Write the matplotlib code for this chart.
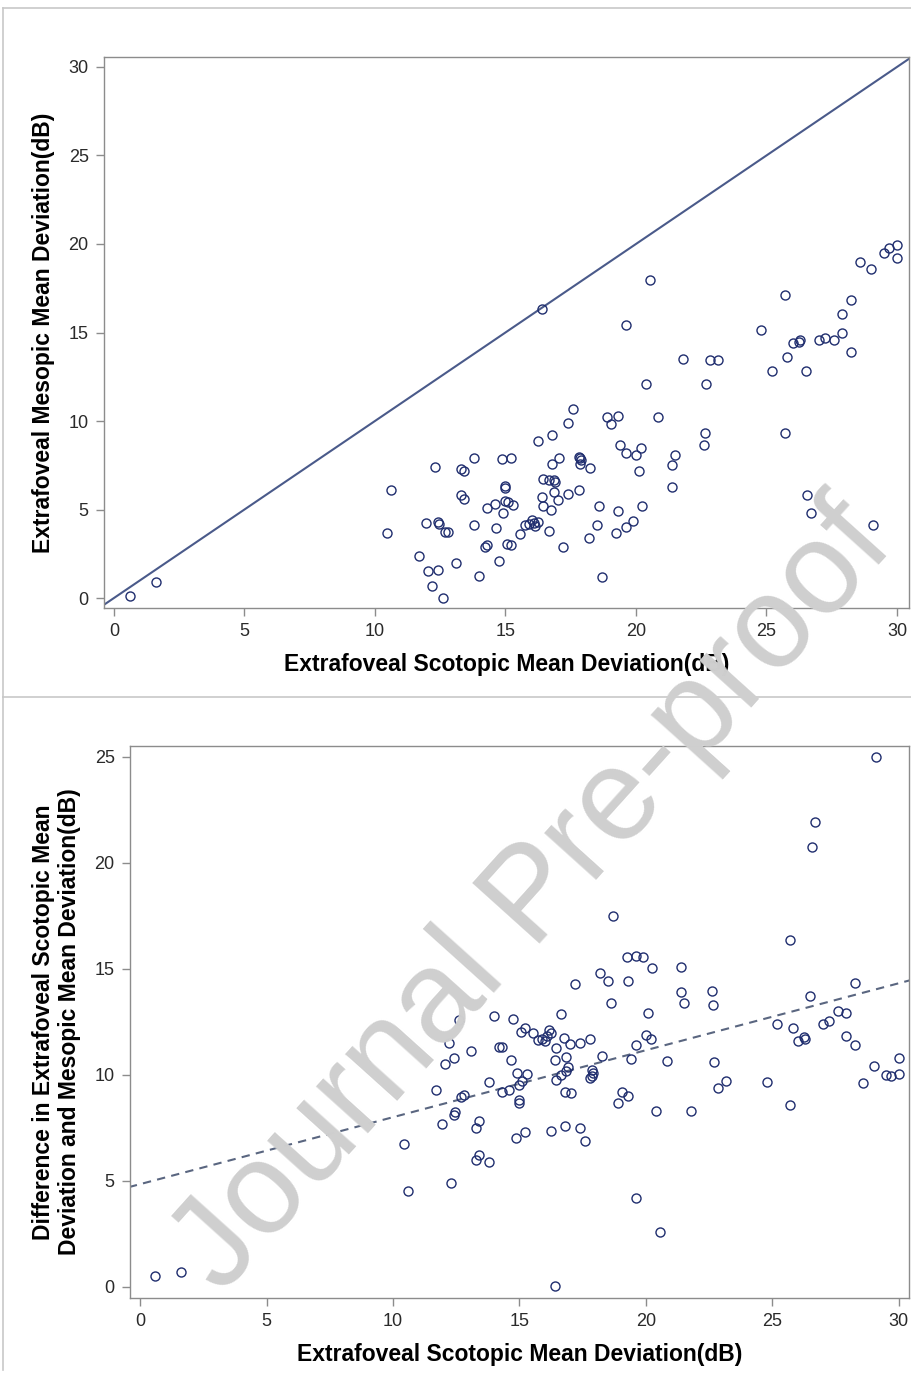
import numpy as np
import matplotlib
matplotlib.use("Agg")
import matplotlib.pyplot as plt
from matplotlib.lines import Line2D

plt.rcParams["font.family"] = ["Liberation Sans", "DejaVu Sans"]

# extrafoveal scotopic MD (x) and mesopic MD (y)
scotopic = [
    0.6, 1.6, 10.6, 10.45, 12.3, 13.3, 13.4, 13.8, 13.3, 13.4,
    14.3, 14.6, 11.95, 12.4, 12.45, 12.7, 12.8, 13.8, 14.65, 14.2,
    14.3, 14.75, 11.7, 12.05, 12.4, 13.1, 14.0, 12.2, 12.6, 14.85,
    15.2, 15.0, 15.0, 15.0, 15.1, 15.3, 14.9, 15.05, 15.2, 15.55,
    15.75, 15.9, 16.0, 16.1, 16.15, 16.25, 16.65, 16.25, 16.8, 17.05,
    16.45, 16.65, 16.85, 16.9, 16.4, 16.85, 17.0, 17.4, 17.8, 16.45,
    16.75, 16.8, 17.4, 17.6, 17.8, 17.85, 17.9, 17.85, 18.25, 18.6,
    19.3, 20.25, 18.5, 19.25, 19.6, 19.9, 18.2, 17.2, 18.7, 18.9,
    19.05, 19.3, 20.85, 19.4, 19.6, 20.0, 20.2, 20.1, 21.5, 21.4,
    21.4, 22.65, 22.6, 25.7, 20.4, 22.7, 21.8, 22.85, 23.15, 19.6,
    16.4, 20.55, 24.8, 25.7, 25.2, 25.8, 26.0, 26.25, 26.3, 26.5,
    27.0, 27.25, 27.6, 27.9, 27.9, 28.25, 28.25, 28.6, 29.0, 29.5,
    29.7, 30.0, 30.0, 26.55, 26.7, 29.1,
]
mesopic = [
    0.1, 0.9, 6.1, 3.7, 7.4, 7.3, 7.2, 7.9, 5.8, 5.6,
    5.1, 5.3, 4.25, 4.3, 4.2, 3.75, 3.75, 4.15, 3.95, 2.9,
    3.0, 2.1, 2.4, 1.55, 1.6, 2.0, 1.25, 0.7, 0.0, 7.85,
    7.9, 6.35, 6.2, 5.5, 5.4, 5.25, 4.8, 3.05, 3.0, 3.6,
    4.1, 4.2, 4.4, 4.25, 4.05, 4.3, 3.8, 8.9, 7.6, 7.9,
    6.7, 6.65, 6.65, 6.55, 5.7, 6.0, 5.55, 5.9, 6.1, 5.2,
    5.0, 9.2, 9.9, 10.7, 7.95, 7.9, 7.8, 7.6, 7.35, 5.2,
    4.9, 5.2, 4.1, 3.7, 4.0, 4.35, 3.4, 2.9, 1.2, 10.25,
    9.85, 10.3, 10.2, 8.65, 8.2, 8.1, 8.5, 7.2, 8.1, 7.5,
    6.3, 9.35, 8.65, 9.35, 12.1, 12.1, 13.5, 13.45, 13.45, 15.4,
    16.35, 17.95, 15.15, 17.1, 12.8, 13.6, 14.4, 14.45, 14.6, 12.8,
    14.6, 14.7, 14.6, 15.0, 16.05, 16.85, 13.9, 19.0, 18.6, 19.5,
    19.75, 19.95, 19.2, 5.8, 4.8, 4.1,
]

x_ticks = [0, 5, 10, 15, 20, 25, 30]
top_y_ticks = [0, 5, 10, 15, 20, 25, 30]
bottom_y_ticks = [0, 5, 10, 15, 20, 25]

x_label = "Extrafoveal Scotopic Mean Deviation(dB)"
top_y_label = "Extrafoveal Mesopic Mean Deviation(dB)"
bottom_y_label = "Difference in Extrafoveal Scotopic Mean\nDeviation and Mesopic Mean Deviation(dB)"

S = np.array(scotopic)
M = np.array(mesopic)
difference = S - M

MARKER_COLOR = "#1f2d6e"
LINE_COLOR = "#4a5a8a"
SPINE_COLOR = "#8c8c8c"
LABEL_SIZE = 16.5


def style_axes(ax, yticks):
    ax.set_xticks(x_ticks)
    ax.set_yticks(yticks)
    for sp in ax.spines.values():
        sp.set_color(SPINE_COLOR)
        sp.set_linewidth(1.0)
    ax.tick_params(direction="out", length=6, width=1, color=SPINE_COLOR,
                   labelsize=13, labelcolor="#2a2a2a", pad=5)


fig = plt.figure(figsize=(9.12, 13.78), dpi=100)

# top panel: mesopic vs scotopic with identity line
ax1 = fig.add_axes([0.114, 0.5588, 0.8827, 0.3998])
ax1.set_xlim(-0.38, 30.46)
ax1.set_ylim(-0.56, 30.56)
ax1.plot([-1, 31], [-1, 31], color=LINE_COLOR, lw=1.5, zorder=2)
ax1.plot(S, M, linestyle="none", marker="o", ms=6.5, mfc="none",
         mec=MARKER_COLOR, mew=1.0, zorder=3)
style_axes(ax1, top_y_ticks)
ax1.set_xlabel(x_label, fontsize=LABEL_SIZE, fontweight="bold", labelpad=9)
ax1.set_ylabel(top_y_label, fontsize=LABEL_SIZE, fontweight="bold", labelpad=10)

# bottom panel: difference vs scotopic with fitted line
ax2 = fig.add_axes([0.1425, 0.0581, 0.8542, 0.4005])
ax2.set_xlim(-0.4, 30.4)
ax2.set_ylim(-0.52, 25.5)
slope, intercept = np.polyfit(S, difference, 1)
xs = np.array([-1, 31])
ax2.plot(xs, intercept + slope * xs, color="#5a6680", lw=1.5,
         linestyle=(0, (4, 3)), zorder=2)
ax2.plot(S, difference, linestyle="none", marker="o", ms=6.5, mfc="none",
         mec=MARKER_COLOR, mew=1.0, zorder=3)
style_axes(ax2, bottom_y_ticks)
ax2.set_xlabel(x_label, fontsize=LABEL_SIZE, fontweight="bold", labelpad=9)
ax2.set_ylabel(bottom_y_label, fontsize=LABEL_SIZE, fontweight="bold", labelpad=10,
               linespacing=1.15)

# panel frames
for seg in ([0.003, 0.003], [0.006, 0.4945]), ([0.003, 1.0], [0.4945, 0.4945]), \
        ([0.003, 1.0], [0.994, 0.994]), ([0.003, 0.003], [0.4945, 0.994]):
    fig.add_artist(Line2D(seg[0], seg[1], color="#c8c8c8", lw=1.2))

# watermark
fig.text(0.585, 0.348, "Journal Pre-proof", fontsize=94, color="#cfcfcf",
         rotation=48, ha="center", va="center", rotation_mode="anchor",
         zorder=10)

fig.savefig("out.png", dpi=100)
